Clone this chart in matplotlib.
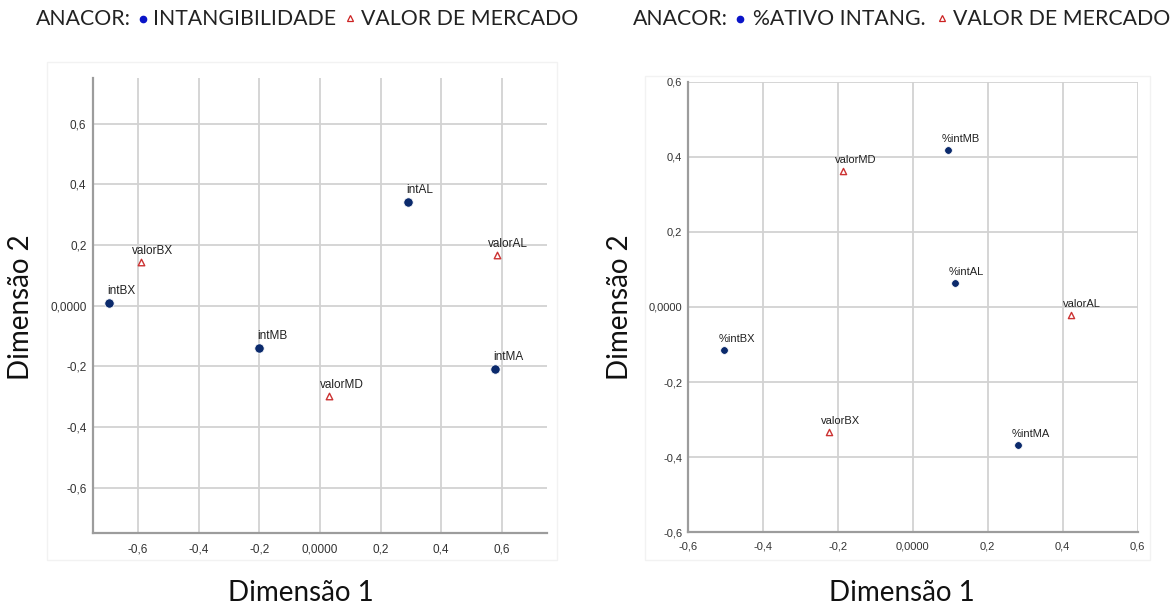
import numpy as np
import matplotlib
matplotlib.use("Agg")
import matplotlib.pyplot as plt
from matplotlib.patches import Rectangle

# ANACOR coordinates, intangibility x market value
int_labels = ["intBX", "intMB", "intAL", "intMA"]
int_d1 = [-0.695, -0.200, 0.292, 0.578]
int_d2 = [0.010, -0.138, 0.343, -0.209]
val1_labels = ["valorBX", "valorMD", "valorAL"]
val1_d1 = [-0.592, 0.029, 0.585]
val1_d2 = [0.143, -0.299, 0.166]

# ANACOR coordinates, % intangible assets x market value
pint_labels = ["%intBX", "%intMB", "%intAL", "%intMA"]
pint_d1 = [-0.502, 0.093, 0.113, 0.280]
pint_d2 = [-0.115, 0.418, 0.063, -0.367]
val2_labels = ["valorBX", "valorMD", "valorAL"]
val2_d1 = [-0.224, -0.187, 0.422]
val2_d2 = [-0.332, 0.361, -0.020]

ticks = [-0.6, -0.4, -0.2, 0.0, 0.2, 0.4, 0.6]
tick_labels = ["-0,6", "-0,4", "-0,2", "0,0000", "0,2", "0,4", "0,6"]

W, H = 1173, 610
fig = plt.figure(figsize=(W / 100, H / 100), dpi=100)
fig.patch.set_facecolor("white")

TITLE_FONT = ["Lato", "DejaVu Sans"]
LABEL_FONT = ["Liberation Sans", "DejaVu Sans"]
NAVY = "#0b2a6c"
RED = "#cc3333"


def px(x0, y0, x1, y1):
    # pixel box (top-left origin) -> figure fraction rect
    return [x0 / W, 1 - y1 / H, (x1 - x0) / W, (y1 - y0) / H]


# faint panel frames behind each plot
for (x0, y0, x1, y1) in [(47, 62, 557, 560), (645, 76, 1150, 560)]:
    fig.patches.append(Rectangle((x0 / W, 1 - y1 / H), (x1 - x0) / W, (y1 - y0) / H,
                                 transform=fig.transFigure, facecolor="none",
                                 edgecolor="#f2f2f2", lw=1.0, zorder=-1))


def setup(ax, lim, fs, xpad, ypad):
    ax.set_xlim(-lim, lim)
    ax.set_ylim(-lim, lim)
    ax.set_xticks(ticks)
    ax.set_yticks(ticks)
    ax.set_xticklabels(tick_labels)
    ax.set_yticklabels(tick_labels)
    ax.tick_params(axis="x", length=0, pad=xpad, labelsize=fs, labelcolor="#333333")
    ax.tick_params(axis="y", length=0, pad=ypad, labelsize=fs, labelcolor="#333333")
    for lab in ax.get_xticklabels() + ax.get_yticklabels():
        lab.set_family(LABEL_FONT)
    ax.grid(True, color="#d2d2d2", lw=1.3)
    ax.set_axisbelow(True)
    ax.patch.set_alpha(0)
    for s in ["top", "right"]:
        ax.spines[s].set_visible(False)
    for s in ["left", "bottom"]:
        ax.spines[s].set_color("#9c9c9c")
        ax.spines[s].set_linewidth(1.6)


def label(ax, x, y, txt, dx, dy, fs):
    ax.annotate(txt, (x, y), xytext=(dx, dy), textcoords="offset pixels",
                ha="left", va="baseline", fontsize=fs, color="#222222",
                family=LABEL_FONT)


# left: intangibility
ax1 = fig.add_axes(px(92.7, 78.3, 547.3, 533.3))
setup(ax1, 0.75, 8.5, 7, 4.5)
ax1.scatter(int_d1, int_d2, s=46, color=NAVY, edgecolors="white", linewidths=0.6, zorder=3)
ax1.scatter(val1_d1, val1_d2, s=22, marker="^", facecolors="white", edgecolors=RED,
            linewidths=1.0, zorder=3)
for x, y, t in zip(int_d1, int_d2, int_labels):
    label(ax1, x, y, t, -2, 9, 8.5)
for x, y, t in zip(val1_d1, val1_d2, val1_labels):
    label(ax1, x, y, t, -9, 8, 8.5)

# right: % intangible assets
ax2 = fig.add_axes(px(687.7, 81.7, 1137.7, 532.3))
setup(ax2, 0.6, 8, 6.5, 4)
ax2.scatter(pint_d1, pint_d2, s=30, color=NAVY, edgecolors="white", linewidths=0.5, zorder=3)
ax2.scatter(val2_d1, val2_d2, s=20, marker="^", facecolors="white", edgecolors=RED,
            linewidths=1.0, zorder=3)
for x, y, t in zip(pint_d1, pint_d2, pint_labels):
    label(ax2, x, y, t, -6, 8, 8)
for x, y, t in zip(val2_d1, val2_d2, val2_labels):
    label(ax2, x, y, t, -8, 8, 8)

# axis titles
for xc in (301, 902):
    fig.text(xc / W, 1 - 593 / H, "Dimensão 1", ha="center", va="center",
             fontsize=20, family=TITLE_FONT, color="#111111")
for xc in (21, 620):
    fig.text(xc / W, 1 - 307 / H, "Dimensão 2", ha="center", va="center",
             rotation=90, fontsize=20, family=TITLE_FONT, color="#111111")


# headers, built from pieces
def header(x_anacor, x_dot, x_name, name, x_tri, x_valor):
    y = 1 - 19 / H
    kw = dict(va="center", ha="left", fontsize=15.3, family=TITLE_FONT, color="#222222")
    fig.text(x_anacor / W, y, "ANACOR:", **kw)
    fig.text(x_name / W, y, name, **kw)
    fig.text(x_valor / W, y, "VALOR DE MERCADO", **kw)
    fig.lines.append(plt.Line2D([x_dot / W], [y], marker="o", ms=4.5, color="#0a14c8",
                                transform=fig.transFigure))
    fig.lines.append(plt.Line2D([x_tri / W], [y + 1 / H], marker="^", ms=5, mfc="white",
                                mec="#cc2222", mew=0.9, transform=fig.transFigure))


header(36, 143, 153, "INTANGIBILIDADE", 350, 361)
header(633, 740, 753, "%ATIVO INTANG.", 942, 953)

fig.savefig("out.png", dpi=100)
